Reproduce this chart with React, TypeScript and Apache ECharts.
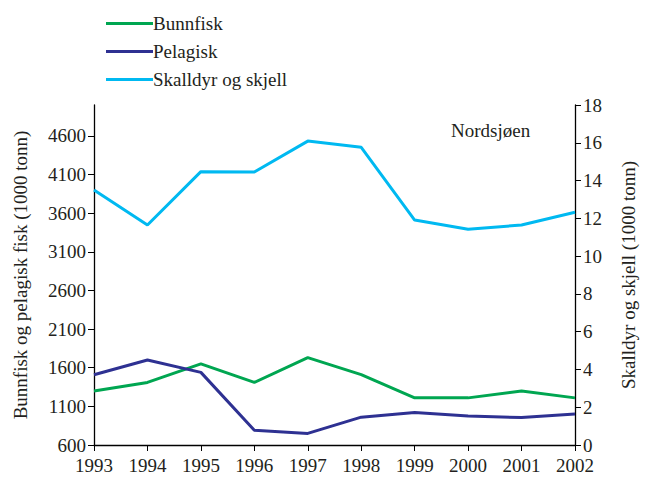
import React, { useEffect, useRef } from "react";
import * as echarts from "echarts";

const years = ["1993", "1994", "1995", "1996", "1997", "1998", "1999", "2000", "2001", "2002"];
const bunnfisk = [1300, 1410, 1650, 1410, 1730, 1510, 1210, 1210, 1300, 1210];
const pelagisk = [1510, 1700, 1540, 790, 750, 960, 1020, 975, 955, 1000];
const skalldyr = [13.5, 11.65, 14.47, 14.45, 16.09, 15.76, 11.91, 11.42, 11.65, 12.32];
const leftTicks = [600, 1100, 1600, 2100, 2600, 3100, 3600, 4100, 4600];

const FONT = "'Liberation Serif', 'Times New Roman', serif";
const TXT = "#231f20";
const FS = 19;

export default function App() {
  const ref = useRef<HTMLDivElement>(null);
  useEffect(() => {
    if (!ref.current) return;
    const chart = echarts.init(ref.current, null, { renderer: "svg" });
    chart.setOption({
      animation: false,
      backgroundColor: "#ffffff",
      textStyle: { fontFamily: FONT, color: TXT },
      legend: {
        orient: "vertical",
        left: 101,
        top: 9,
        itemWidth: 47,
        itemHeight: 3,
        itemGap: 9,
        icon: "rect",
        textStyle: { fontFamily: FONT, fontSize: FS, color: TXT, padding: [0, 0, 0, -5] },
        data: ["Bunnfisk", "Pelagisk", "Skalldyr og skjell"],
      },
      graphic: [
        {
          type: "text",
          left: 451,
          top: 121,
          style: { text: "Nordsjøen", font: `${FS}px ${FONT}`, fill: TXT },
        },
      ],
      grid: { left: 94, right: 76, top: 105, bottom: 32 },
      xAxis: {
        type: "category",
        data: years,
        boundaryGap: false,
        axisLine: { lineStyle: { color: "#000", width: 1.3 } },
        axisTick: { length: 6, lineStyle: { color: "#000" } },
        axisLabel: { fontFamily: FONT, fontSize: FS, color: TXT, margin: 11 },
      },
      yAxis: [
        {
          type: "value",
          min: 600,
          max: 5000,
          interval: 500,
          name: "Bunnfisk og pelagisk fisk (1000 tonn)",
          nameLocation: "middle",
          nameGap: 64,
          nameTextStyle: { fontFamily: FONT, fontSize: FS, color: TXT },
          axisLine: { show: true, lineStyle: { color: "#000", width: 1.3 } },
          axisTick: { show: true, length: 6, lineStyle: { color: "#000" }, customValues: leftTicks },
          axisLabel: {
            fontFamily: FONT,
            fontSize: FS,
            color: TXT,
            margin: 8,
            customValues: leftTicks,
            formatter: (v: number) => String(v),
          },
          splitLine: { show: false },
        },
        {
          type: "value",
          min: 0,
          max: 18,
          interval: 2,
          name: "Skalldyr og skjell (1000 tonn)",
          nameLocation: "middle",
          nameGap: 44,
          nameRotate: 90,
          nameTextStyle: { fontFamily: FONT, fontSize: FS, color: TXT },
          axisLine: { show: true, lineStyle: { color: "#000", width: 1.3 } },
          axisTick: { show: true, length: 6, lineStyle: { color: "#000" } },
          axisLabel: { fontFamily: FONT, fontSize: FS, color: TXT, margin: 8 },
          splitLine: { show: false },
        },
      ],
      series: [
        {
          name: "Bunnfisk",
          type: "line",
          data: bunnfisk,
          yAxisIndex: 0,
          symbol: "none",
          color: "#00a651",
          lineStyle: { width: 3, color: "#00a651" },
        },
        {
          name: "Pelagisk",
          type: "line",
          data: pelagisk,
          yAxisIndex: 0,
          symbol: "none",
          color: "#2e3192",
          lineStyle: { width: 3, color: "#2e3192" },
        },
        {
          name: "Skalldyr og skjell",
          type: "line",
          data: skalldyr,
          yAxisIndex: 1,
          symbol: "none",
          color: "#00b9f1",
          lineStyle: { width: 3, color: "#00b9f1" },
        },
      ],
    });
    return () => chart.dispose();
  }, []);
  return <div ref={ref} style={{ width: 651, height: 477, position: "absolute", left: 0, top: 0 }} />;
}
